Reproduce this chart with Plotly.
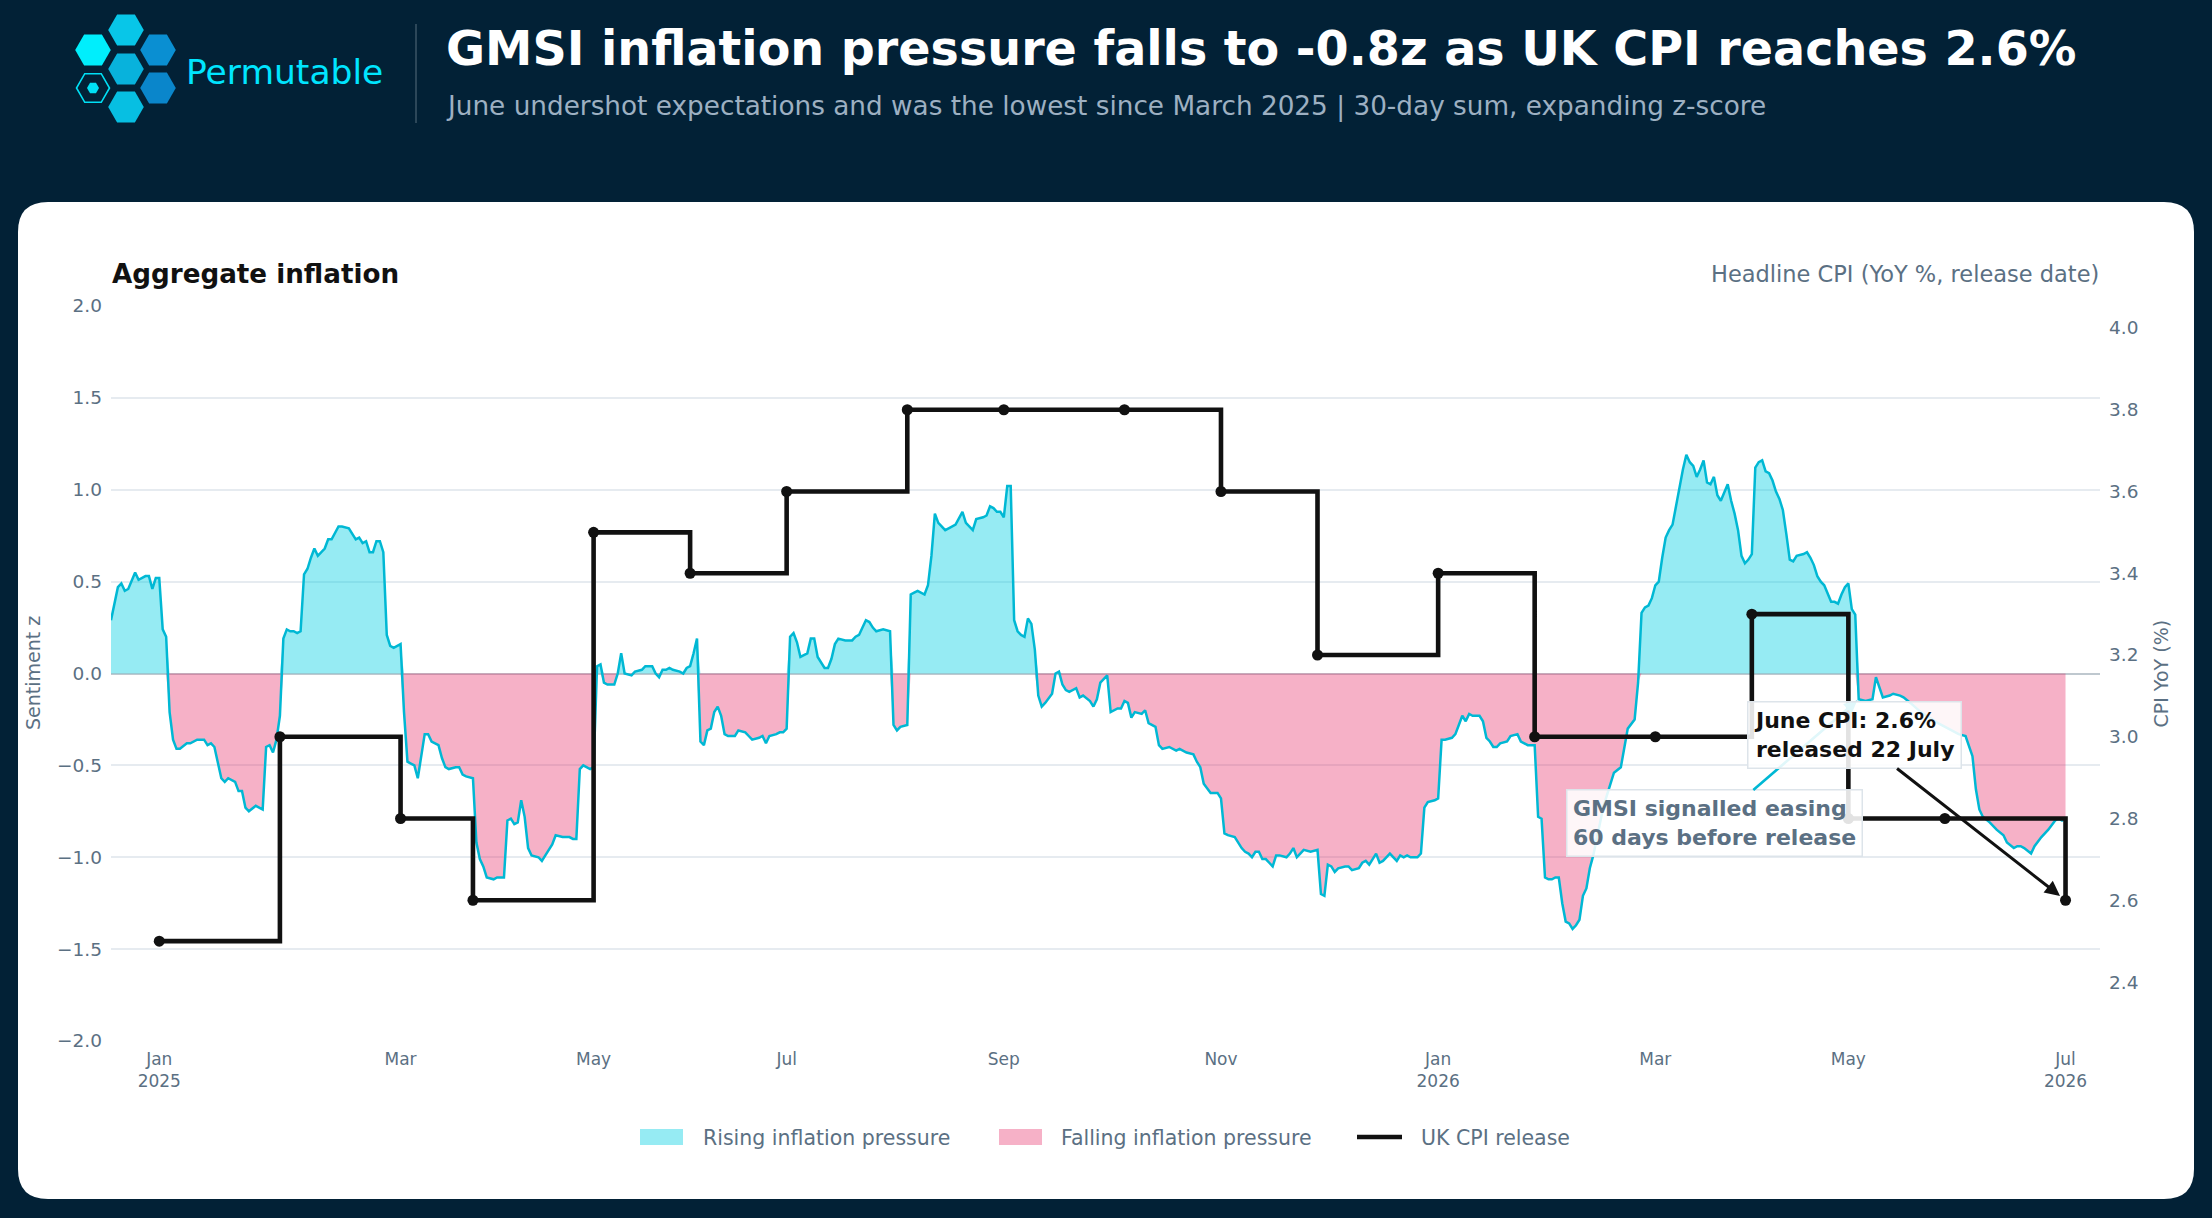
import numpy as np
import pandas as pd
import plotly.graph_objects as go

# ---------------- data ----------------
cpi_release_dates = ["2025-01-15", "2025-02-19", "2025-03-26", "2025-04-16", "2025-05-21",
                     "2025-06-18", "2025-07-16", "2025-08-20", "2025-09-17", "2025-10-22",
                     "2025-11-19", "2025-12-17", "2026-01-21", "2026-02-18", "2026-03-25",
                     "2026-04-22", "2026-05-20", "2026-06-17", "2026-07-22"]
cpi_yoy = [2.5, 3.0, 2.8, 2.6, 3.5, 3.4, 3.6, 3.8, 3.8, 3.8, 3.6, 3.2, 3.4, 3.0, 3.0, 3.3, 2.8, 2.8, 2.6]

sentiment_start = "2025-01-01"
sentiment_day = [
    0, 1, 2, 3, 4, 5, 7, 8, 9, 10, 11, 12, 13, 14, 15, 16, 17, 18, 19, 20, 22, 23, 25, 27, 28, 29, 30,
    32, 33, 34, 36, 37, 38, 39, 40, 42, 44, 45, 46, 47, 48, 49, 50, 51, 52, 53, 54, 55, 56, 57, 58, 59,
    60, 62, 63, 64, 66, 67, 69, 70, 71, 72, 73, 74, 75, 76, 77, 78, 79, 80, 81, 82, 84, 85, 86, 87, 88,
    89, 90, 91, 92, 93, 95, 96, 97, 98, 100, 101, 102, 103, 105, 106, 107, 108, 109, 111, 112, 113, 114,
    115, 116, 117, 118, 119, 120, 121, 122, 124, 125, 126, 128, 129, 131, 133, 134, 135, 136, 137, 139,
    140, 141, 142, 143, 144, 146, 147, 148, 149, 151, 152, 154, 155, 157, 158, 159, 160, 161, 162, 163,
    165, 166, 167, 168, 169, 170, 171, 172, 173, 174, 175, 176, 177, 178, 179, 181, 182, 184, 185, 186,
    188, 189, 190, 191, 193, 194, 195, 196, 197, 198, 199, 200, 201, 202, 203, 204, 205, 206, 207, 208,
    209, 210, 211, 213, 215, 216, 217, 218, 219, 220, 221, 222, 224, 226, 227, 228, 229, 231, 232, 233,
    234, 236, 237, 238, 239, 240, 242, 243, 244, 245, 247, 248, 250, 251, 253, 254, 255, 256, 257, 258,
    259, 260, 261, 262, 263, 264, 265, 266, 267, 268, 269, 270, 271, 273, 274, 275, 276, 277, 278, 280,
    281, 282, 284, 285, 286, 287, 289, 290, 292, 293, 294, 295, 296, 297, 299, 300, 301, 303, 304, 305,
    307, 309, 310, 312, 314, 315, 316, 317, 319, 321, 322, 323, 324, 326, 328, 329, 330, 331, 332, 333,
    334, 335, 336, 337, 338, 339, 341, 342, 343, 344, 345, 346, 348, 350, 351, 352, 353, 354, 355, 356,
    358, 359, 360, 362, 363, 364, 365, 367, 368, 369, 371, 372, 373, 374, 375, 376, 377, 379, 380, 381,
    382, 384, 385, 386, 387, 389, 390, 391, 392, 393, 394, 395, 397, 398, 399, 400, 401, 402, 403, 405,
    406, 408, 409, 410, 411, 413, 414, 415, 416, 417, 418, 419, 420, 421, 422, 423, 424, 425, 426, 427,
    428, 429, 430, 433, 436, 438, 439, 440, 442, 443, 444, 445, 446, 447, 448, 449, 450, 451, 452, 453,
    454, 455, 456, 457, 458, 459, 460, 461, 462, 463, 464, 465, 466, 467, 468, 469, 470, 471, 472, 473,
    474, 475, 476, 477, 478, 479, 480, 481, 482, 483, 484, 485, 486, 487, 488, 489, 491, 492, 493, 494,
    495, 496, 497, 498, 499, 500, 501, 502, 503, 504, 505, 506, 507, 509, 511, 512, 513, 514, 516, 517,
    519, 520, 522, 525, 530, 534, 536, 538, 540, 541, 542, 543, 545, 547, 549, 550, 552, 553, 554, 555,
    557, 558, 560, 562, 564, 565, 566, 567]
sentiment_z = [
    0.29, 0.38, 0.47, 0.49, 0.45, 0.46, 0.55, 0.51, 0.52, 0.53, 0.53, 0.46, 0.52, 0.52, 0.24, 0.20, -0.21,
    -0.36, -0.41, -0.41, -0.38, -0.38, -0.36, -0.36, -0.39, -0.38, -0.40,
    -0.57, -0.59, -0.57, -0.59, -0.64, -0.64, -0.73, -0.75, -0.72, -0.74, -0.40, -0.39, -0.43, -0.36, -0.23,
    0.19, 0.24, 0.23, 0.23, 0.22, 0.23, 0.54, 0.57, 0.63, 0.68,
    0.64, 0.68, 0.73, 0.73, 0.80, 0.80, 0.79, 0.76, 0.73, 0.74, 0.71, 0.72, 0.66, 0.66, 0.72, 0.72, 0.66,
    0.21, 0.15, 0.14, 0.16, -0.21, -0.48, -0.49, -0.50,
    -0.57, -0.46, -0.33, -0.33, -0.37, -0.39, -0.46, -0.51, -0.52, -0.51, -0.51, -0.55, -0.56, -0.57, -0.92,
    -1.01, -1.05, -1.11, -1.12, -1.11, -1.11, -1.11,
    -0.80, -0.79, -0.82, -0.81, -0.69, -0.78, -0.95, -0.99, -1.00, -1.02, -0.99, -0.93, -0.88, -0.89, -0.89,
    -0.90, -0.90, -0.52, -0.50, -0.52,
    -0.51, 0.04, 0.05, -0.05, -0.06, -0.06, 0.00, 0.11, 0.00, -0.01, 0.01, 0.02, 0.04, 0.04, 0.00, -0.02,
    0.02, 0.02, 0.03, 0.02,
    0.01, 0.00, 0.03, 0.04, 0.11, 0.19, -0.37, -0.39, -0.31, -0.30, -0.21, -0.18, -0.23, -0.33, -0.34, -0.34,
    -0.31, -0.32, -0.34, -0.36,
    -0.35, -0.34, -0.38, -0.34, -0.33, -0.32, -0.32, -0.30, 0.20, 0.22, 0.17, 0.09, 0.10, 0.11, 0.19, 0.19,
    0.09, 0.06, 0.03, 0.03,
    0.08, 0.16, 0.19, 0.18, 0.18, 0.20, 0.21, 0.25, 0.29, 0.28, 0.25, 0.23, 0.24, 0.23, -0.28, -0.31, -0.29,
    -0.28, 0.43, 0.44,
    0.45, 0.43, 0.48, 0.64, 0.87, 0.82, 0.78, 0.79, 0.80, 0.81, 0.88, 0.82, 0.78, 0.84, 0.85, 0.86, 0.91,
    0.90, 0.88, 0.88,
    0.85, 1.02, 1.02, 0.29, 0.23, 0.21, 0.20, 0.30, 0.27, 0.13, -0.12, -0.18, -0.16, -0.11, 0.00, 0.01,
    -0.06, -0.09, -0.10, -0.08,
    -0.13, -0.12, -0.15, -0.18, -0.14, -0.05, -0.01, -0.21, -0.19, -0.19, -0.15, -0.16, -0.24, -0.21, -0.22,
    -0.20, -0.27, -0.29, -0.39, -0.41,
    -0.40, -0.42, -0.41, -0.43, -0.44, -0.48, -0.51, -0.60, -0.65, -0.65, -0.68, -0.87, -0.88, -0.89, -0.95,
    -0.97, -0.98, -1.00, -0.97, -0.97,
    -1.01, -1.01, -1.03, -1.05, -0.99, -0.99, -1.00, -0.98, -0.95, -1.00, -0.98, -0.96, -0.97, -0.96, -1.20,
    -1.21, -1.04, -1.05, -1.08, -1.06,
    -1.05, -1.05, -1.07, -1.06, -1.03, -1.02, -1.04, -0.98, -1.03, -1.02, -0.98, -1.00, -1.02, -0.99, -1.00,
    -0.99, -1.00, -1.00, -0.98, -0.73,
    -0.70, -0.69, -0.68, -0.36, -0.36, -0.35, -0.33, -0.28, -0.23, -0.26, -0.22, -0.23, -0.23, -0.26, -0.35,
    -0.37, -0.40, -0.40, -0.38, -0.37,
    -0.34, -0.33, -0.37, -0.38, -0.39, -0.39, -0.78, -0.79, -1.11, -1.12, -1.12, -1.11, -1.11, -1.25, -1.35,
    -1.36, -1.39, -1.37, -1.34, -1.21,
    -1.17, -1.06, -0.99, -0.72, -0.54, -0.51, -0.41, -0.30, -0.25, -0.05, 0.33, 0.36, 0.37, 0.41, 0.48, 0.50,
    0.63, 0.74, 0.78, 0.81,
    0.91, 1.02, 1.11, 1.19, 1.15, 1.13, 1.07, 1.11, 1.16, 1.04, 1.03, 1.07, 0.97, 0.94, 0.99, 1.03, 0.94,
    0.87, 0.78, 0.64,
    0.60, 0.62, 0.65, 1.12, 1.15, 1.16, 1.10, 1.09, 1.05, 0.99, 0.95, 0.89, 0.76, 0.62, 0.61, 0.64, 0.65,
    0.66, 0.63, 0.59,
    0.53, 0.50, 0.48, 0.43, 0.39, 0.39, 0.38, 0.43, 0.47, 0.49, 0.35, 0.32, -0.14, -0.15, -0.14, -0.02, -0.07,
    -0.13, -0.12, -0.11,
    -0.12, -0.13, -0.16, -0.21, -0.27, -0.31, -0.33, -0.34, -0.45, -0.63, -0.74, -0.78, -0.81, -0.85, -0.88,
    -0.92, -0.95, -0.94, -0.94, -0.95,
    -0.98, -0.94, -0.89, -0.85, -0.80, -0.79, -0.80, -0.79]

x_tick_dates = cpi_release_dates[::2]
x_tick_text = ["Jan<br>2025", "Mar", "May", "Jul", "Sep", "Nov", "Jan<br>2026", "Mar", "May", "Jul<br>2026"]
x_range = ["2025-01-01", "2026-08-01"]
y_left_range = [-2.0, 2.0]
y_right_range = [2.2557, 4.0538]

signal_date = "2026-05-23"
legend_labels = ["Rising inflation pressure", "Falling inflation pressure", "UK CPI release"]

# ---------------- styling ----------------
FONT = "DejaVu Sans"
NAVY = "#022136"
SLATE = "#5b7083"
CYAN_LINE = "#00b8d4"
CYAN_FILL = "rgba(0,206,226,0.41)"
PINK_FILL = "rgba(230,40,100,0.36)"
BLACK = "#111111"

W, H = 2212, 1218
ML, MR, MT, MB = 111, 112, 306, 177
PW, PH = W - ML - MR, H - MT - MB


def px(x):
    return (x - ML) / PW


def py(y):
    return 1 - (y - MT) / PH


dates = pd.Timestamp(sentiment_start) + pd.to_timedelta(sentiment_day, unit="D")
z = np.array(sentiment_z)
z_pos = np.where(z > 0, z, 0.0)
z_neg = np.where(z < 0, z, 0.0)

fig = go.Figure()
fig.add_trace(go.Scatter(x=dates, y=z_pos, mode="lines", line=dict(width=0, color=CYAN_FILL),
                         fill="tozeroy", fillcolor=CYAN_FILL, name=legend_labels[0],
                         showlegend=False, hoverinfo="skip"))
fig.add_trace(go.Scatter(x=dates, y=z_neg, mode="lines", line=dict(width=0, color=PINK_FILL),
                         fill="tozeroy", fillcolor=PINK_FILL, name=legend_labels[1],
                         showlegend=False, hoverinfo="skip"))
fig.add_trace(go.Scatter(x=dates, y=z, mode="lines", line=dict(width=2.5, color=CYAN_LINE),
                         name="GMSI", showlegend=False))
fig.add_trace(go.Scatter(x=pd.to_datetime(cpi_release_dates), y=cpi_yoy, yaxis="y2",
                         mode="lines+markers", line=dict(shape="hv", width=4.6, color=BLACK),
                         marker=dict(size=11, color=BLACK), name=legend_labels[2], showlegend=False))


def rounded_rect(x0, y0, x1, y1, r):
    return (f"M {px(x0 + r)},{py(y0)} L {px(x1 - r)},{py(y0)} Q {px(x1)},{py(y0)} {px(x1)},{py(y0 + r)} "
            f"L {px(x1)},{py(y1 - r)} Q {px(x1)},{py(y1)} {px(x1 - r)},{py(y1)} "
            f"L {px(x0 + r)},{py(y1)} Q {px(x0)},{py(y1)} {px(x0)},{py(y1 - r)} "
            f"L {px(x0)},{py(y0 + r)} Q {px(x0)},{py(y0)} {px(x0 + r)},{py(y0)} Z")


def hex_path(cx, cy, r):
    pts = [(cx + r * np.cos(a), cy + r * np.sin(a)) for a in np.deg2rad([0, 60, 120, 180, 240, 300])]
    return "M " + " L ".join(f"{px(x)},{py(y)}" for x, y in pts) + " Z"


shapes = [dict(type="path", xref="paper", yref="paper", path=rounded_rect(18, 202, 2194, 1199, 30),
               fillcolor="white", line=dict(width=0), layer="below")]

hexes = [((126, 30), "#08c6e8"), ((93, 50), "#00eefc"), ((158, 50), "#0a8fd2"),
         ((126, 69), "#08b2dc"), ((158, 88), "#0a86cb"), ((126, 107), "#07bfe2")]
for (cx, cy), col in hexes:
    shapes.append(dict(type="path", xref="paper", yref="paper", path=hex_path(cx, cy, 17.8),
                       fillcolor=col, line=dict(width=0)))
shapes.append(dict(type="path", xref="paper", yref="paper", path=hex_path(93, 88, 16.5),
                   fillcolor="rgba(0,0,0,0)", line=dict(width=1.6, color="#00e0f5")))
shapes.append(dict(type="path", xref="paper", yref="paper", path=hex_path(93, 88, 6),
                   fillcolor="#00e0f5", line=dict(width=0)))
shapes.append(dict(type="line", xref="paper", yref="paper", x0=px(416), x1=px(416), y0=py(24), y1=py(123),
                   line=dict(color="#2c4759", width=2)))

# legend (drawn manually)
LEG_Y = 1137
shapes.append(dict(type="rect", xref="paper", yref="paper", x0=px(640), x1=px(683), y0=py(LEG_Y - 8),
                   y1=py(LEG_Y + 8), fillcolor=CYAN_FILL, line=dict(width=0)))
shapes.append(dict(type="rect", xref="paper", yref="paper", x0=px(999), x1=px(1042), y0=py(LEG_Y - 8),
                   y1=py(LEG_Y + 8), fillcolor=PINK_FILL, line=dict(width=0)))
shapes.append(dict(type="line", xref="paper", yref="paper", x0=px(1357), x1=px(1402), y0=py(LEG_Y),
                   y1=py(LEG_Y), line=dict(color=BLACK, width=4.6)))

annotations = [
    dict(text="Permutable", x=px(184), y=py(71.5), xanchor="left", yanchor="middle",
         font=dict(family=FONT, size=34.5, color="#00e5ff")),
    dict(text="<b>GMSI inflation pressure falls to -0.8z as UK CPI reaches 2.6%</b>", x=px(444), y=py(48.5),
         xanchor="left", yanchor="middle", font=dict(family=FONT, size=47.6, color="white")),
    dict(text="June undershot expectations and was the lowest since March 2025 | 30-day sum, expanding z-score",
         x=px(444), y=py(106.5), xanchor="left", yanchor="middle",
         font=dict(family=FONT, size=26.3, color="#9db0c2")),
    dict(text="<b>Aggregate inflation</b>", x=px(110), y=py(273.5), xanchor="left", yanchor="middle",
         font=dict(family=FONT, size=26.2, color=BLACK)),
    dict(text="Headline CPI (YoY %, release date)", x=px(2101), y=py(274), xanchor="right", yanchor="middle",
         font=dict(family=FONT, size=22.5, color=SLATE)),
    dict(text="Sentiment z", x=px(32.5), y=0.5, textangle=-90, xanchor="center", yanchor="middle",
         font=dict(family=FONT, size=19, color=SLATE)),
    dict(text="CPI YoY (%)", x=px(2160), y=0.5, textangle=-90, xanchor="center", yanchor="middle",
         font=dict(family=FONT, size=19, color=SLATE)),
    dict(text=legend_labels[0], x=px(701), y=py(LEG_Y + 1), xanchor="left", yanchor="middle",
         font=dict(family=FONT, size=20.5, color=SLATE)),
    dict(text=legend_labels[1], x=px(1059), y=py(LEG_Y + 1), xanchor="left", yanchor="middle",
         font=dict(family=FONT, size=20.5, color=SLATE)),
    dict(text=legend_labels[2], x=px(1419), y=py(LEG_Y + 1), xanchor="left", yanchor="middle",
         font=dict(family=FONT, size=20.5, color=SLATE)),
]
for a in annotations:
    a.update(xref="paper", yref="paper", showarrow=False)

signal_val = sentiment_z[sentiment_day.index((pd.Timestamp(signal_date) - pd.Timestamp(sentiment_start)).days)]
annotations.append(dict(
    text="<b>GMSI signalled easing<br>60 days before release</b>", x=signal_date, y=signal_val,
    xref="x", yref="y", ax=-144, ay=124, axref="pixel", ayref="pixel", align="left",
    showarrow=True, arrowhead=2, arrowsize=1, arrowwidth=2.6, arrowcolor=CYAN_LINE, standoff=2,
    font=dict(family=FONT, size=22, color=SLATE), bgcolor="rgba(255,255,255,0.88)",
    bordercolor="#dde4ea", borderwidth=1.5, borderpad=5.5))
annotations.append(dict(
    text="<b>June CPI: 2.6%<br>released 22 July</b>", x=cpi_release_dates[-1], y=cpi_yoy[-1],
    xref="x", yref="y2", ax=-211, ay=-165, axref="pixel", ayref="pixel", align="left",
    showarrow=True, arrowhead=2, arrowsize=1, arrowwidth=3, arrowcolor=BLACK, standoff=7,
    font=dict(family=FONT, size=22, color=BLACK), bgcolor="rgba(255,255,255,0.88)",
    bordercolor="#dde4ea", borderwidth=1.5, borderpad=5.5))

fig.update_layout(
    width=W, height=H, margin=dict(l=ML, r=MR, t=MT, b=MB, autoexpand=False),
    paper_bgcolor=NAVY, plot_bgcolor="white", showlegend=False,
    font=dict(family=FONT, color=SLATE),
    shapes=shapes, annotations=annotations,
    xaxis=dict(type="date", range=x_range, tickmode="array", tickvals=x_tick_dates, ticktext=x_tick_text,
               showgrid=False, zeroline=False, showline=False, ticks="", ticklabelstandoff=6,
               tickfont=dict(family=FONT, size=17, color=SLATE)),
    yaxis=dict(range=y_left_range, dtick=0.5, tick0=0, tickformat=".1f", showgrid=True,
               gridcolor="#e6ebf0", gridwidth=1.5, zeroline=True, zerolinecolor="#bfc8cf",
               zerolinewidth=2, showline=False, ticks="", ticklabelstandoff=8,
               tickfont=dict(family=FONT, size=18.5, color=SLATE)),
    yaxis2=dict(range=y_right_range, overlaying="y", side="right", dtick=0.2, tick0=0, tickformat=".1f",
                showgrid=False, zeroline=False, showline=False, ticks="", ticklabelstandoff=8,
                tickfont=dict(family=FONT, size=18.5, color=SLATE)),
)

fig.write_html("out.html")
